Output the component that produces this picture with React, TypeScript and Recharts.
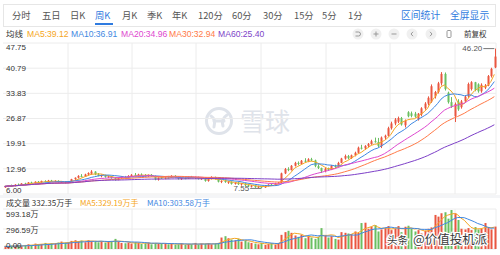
import React from 'react';
import { ComposedChart, Bar, Line, XAxis, YAxis, CartesianGrid, ReferenceDot } from 'recharts';

const RED = '#ea5640';
const GREEN = '#6abf61';
const FONT = '"Liberation Sans", Arial, "Noto Sans CJK SC", sans-serif';
const CJK = '"Noto Sans CJK SC", "Liberation Sans", sans-serif';

const tabs = ['分时', '五日', '日K', '周K', '月K', '季K', '年K', '120分', '60分', '30分', '15分', '5分', '1分'];
const activeTab = '周K';
const toolLinks = ['区间统计', '全屏显示'];

const maNames = ['MA5', 'MA10', 'MA20', 'MA30', 'MA60'];
const maLast = ['39.12', '36.91', '34.96', '32.94', '25.40'];
const maColors = ['#f5a623', '#3f88e2', '#de48cf', '#ff7a48', '#7d3fc8'];
const maWindows = [5, 10, 20, 30, 60];

const priceTicks = [6.0, 12.96, 19.91, 26.87, 33.83, 40.79, 47.75];
const volTicks = [0, 296.59, 593.18];
const volLegend = ['成交量 332.35万手', 'MA5:329.19万手', 'MA10:303.58万手'];
const maxLabel = { index: 147, value: 46.2 };
const minLabel = { index: 77, value: 7.55 };

// weekly candles: [open, high, low, close]
const candles: [number, number, number, number][] = [
  [7.9, 8.2, 7.7, 8.1], [8.1, 8.4, 7.9, 8.3], [8.3, 8.6, 8.0, 8.2], [8.2, 8.7, 8.1, 8.6],
  [8.6, 8.9, 8.3, 8.5], [8.5, 9.0, 8.4, 8.9], [8.9, 9.1, 8.6, 8.8], [8.8, 9.3, 8.7, 9.2],
  [9.2, 9.4, 8.9, 9.0], [9.0, 9.5, 8.9, 9.4], [9.4, 9.6, 9.1, 9.2], [9.2, 9.7, 9.1, 9.6],
  [9.6, 9.8, 9.3, 9.4], [9.4, 9.9, 9.3, 9.7], [9.7, 9.9, 9.4, 9.5], [9.5, 9.8, 9.3, 9.6],
  [9.6, 9.8, 9.2, 9.3], [9.3, 9.6, 9.0, 9.4], [9.4, 9.5, 8.9, 9.1], [9.1, 9.6, 9.0, 9.5],
  [9.5, 10.2, 9.4, 10.1], [10.1, 10.6, 9.9, 10.5], [10.5, 11.2, 10.3, 11.0], [11.0, 11.5, 10.6, 10.8],
  [10.8, 11.6, 10.7, 11.4], [11.4, 12.0, 11.1, 11.8], [11.6, 12.6, 11.3, 12.2], [12.2, 12.3, 11.2, 11.4],
  [11.4, 11.8, 10.9, 11.0], [11.0, 11.4, 10.6, 11.2], [11.2, 11.3, 10.5, 10.7], [10.7, 11.1, 10.4, 10.9],
  [10.9, 11.0, 10.2, 10.4], [10.4, 10.7, 9.7, 9.9], [9.9, 10.5, 9.8, 10.4], [10.4, 10.9, 10.2, 10.7],
  [10.7, 11.0, 10.4, 10.6], [10.6, 11.2, 10.5, 11.0], [11.0, 11.5, 10.8, 11.3], [11.3, 11.8, 11.0, 11.1],
  [11.1, 11.6, 10.9, 11.4], [11.4, 11.7, 11.0, 11.2], [11.2, 11.5, 10.8, 11.0], [11.0, 11.4, 10.7, 11.3],
  [11.3, 11.5, 10.8, 10.9], [10.9, 11.1, 9.8, 10.0], [10.0, 10.6, 9.7, 10.5], [10.5, 10.9, 10.2, 10.4],
  [10.4, 10.8, 10.1, 10.6], [10.6, 11.0, 10.3, 10.5], [10.5, 11.2, 10.4, 11.0], [11.0, 11.2, 10.5, 10.6],
  [10.6, 10.9, 10.0, 10.2], [10.2, 10.6, 9.9, 10.4], [10.4, 10.7, 10.1, 10.3], [10.3, 10.9, 10.2, 10.7],
  [10.7, 11.0, 10.4, 10.5], [10.5, 10.8, 10.2, 10.6], [10.6, 10.8, 10.0, 10.2], [10.2, 10.5, 9.9, 10.4],
  [10.4, 10.6, 9.4, 9.6], [9.6, 10.4, 9.4, 10.2], [10.2, 10.9, 10.0, 10.6], [10.6, 10.8, 10.0, 10.1],
  [10.1, 10.3, 9.2, 9.4], [9.4, 9.8, 9.0, 9.6], [9.6, 9.9, 9.1, 9.3], [9.3, 9.6, 8.8, 9.4],
  [9.4, 9.5, 8.6, 8.8], [8.8, 9.3, 8.6, 9.1], [9.1, 9.3, 8.5, 8.7], [8.7, 9.0, 8.3, 8.9],
  [8.9, 9.0, 8.2, 8.4], [8.4, 8.7, 8.0, 8.2], [8.2, 8.5, 7.8, 8.3], [8.3, 8.4, 7.7, 7.9],
  [7.9, 8.3, 7.6, 8.1], [8.1, 8.2, 7.55, 7.8], [7.8, 8.4, 7.7, 8.3], [8.3, 8.7, 8.1, 8.6],
  [8.6, 8.9, 8.3, 8.5], [8.5, 9.1, 8.4, 9.0], [9.0, 9.3, 8.7, 9.1], [9.1, 11.9, 9.0, 11.7],
  [11.7, 13.2, 11.5, 12.9], [12.9, 13.4, 12.3, 12.6], [12.6, 14.0, 12.5, 13.8], [13.8, 14.9, 13.6, 14.6],
  [14.6, 15.0, 14.0, 14.3], [14.3, 15.4, 14.2, 15.2], [15.2, 15.9, 14.8, 15.0], [15.0, 15.9, 14.8, 15.6],
  [15.6, 16.0, 15.1, 15.3], [15.3, 15.5, 13.4, 13.7], [13.7, 14.2, 12.9, 13.2], [13.2, 13.3, 11.8, 12.3],
  [12.3, 13.2, 12.0, 13.0], [13.0, 13.3, 12.4, 12.7], [12.7, 14.0, 12.6, 13.8], [13.8, 14.1, 13.2, 13.5],
  [13.5, 14.9, 13.4, 14.6], [14.6, 16.0, 14.5, 15.8], [15.8, 16.9, 15.5, 16.5], [16.5, 16.8, 15.6, 15.9],
  [15.9, 16.9, 15.7, 16.7], [16.7, 17.7, 16.4, 17.4], [17.4, 19.1, 17.2, 18.8], [18.8, 19.6, 18.3, 18.6],
  [18.6, 19.5, 18.2, 19.3], [19.3, 20.1, 18.9, 19.8], [19.8, 21.0, 19.6, 20.6], [20.6, 21.6, 20.2, 20.4],
  [20.4, 21.5, 19.0, 19.3], [19.2, 21.9, 18.7, 21.6], [21.6, 22.4, 21.0, 22.1], [22.1, 24.6, 21.9, 24.2],
  [24.2, 26.0, 23.8, 25.5], [25.5, 27.0, 25.0, 26.6], [26.0, 27.4, 25.6, 27.0], [27.0, 27.3, 24.9, 25.2],
  [25.0, 26.6, 24.4, 26.3], [28.6, 28.9, 27.2, 27.5], [28.3, 28.8, 27.2, 27.6], [28.2, 28.7, 27.1, 27.4],
  [26.6, 28.4, 26.3, 28.2], [28.0, 30.0, 27.5, 29.7], [29.7, 31.4, 29.3, 31.0], [31.0, 33.0, 30.5, 32.6],
  [31.5, 36.3, 31.2, 35.8], [33.0, 34.5, 32.4, 34.2], [34.2, 37.0, 33.8, 36.6], [36.6, 39.7, 36.0, 39.2],
  [39.2, 39.6, 34.6, 35.0], [34.0, 34.3, 31.0, 31.4], [31.4, 32.8, 29.8, 30.2], [27.5, 31.3, 25.9, 30.9],
  [31.5, 32.2, 29.0, 29.4], [30.0, 32.0, 29.6, 31.6], [31.6, 33.2, 31.2, 32.9], [33.0, 36.8, 32.6, 36.4],
  [35.0, 37.2, 34.6, 36.9], [36.9, 37.0, 34.4, 34.8], [36.3, 36.6, 34.0, 34.4], [34.4, 36.6, 34.0, 36.2],
  [35.4, 36.4, 35.0, 36.0], [36.0, 38.9, 35.8, 38.6], [38.6, 40.9, 38.2, 40.6], [41.0, 46.2, 40.8, 44.0],
];

// weekly volume, 万手
const volumes = [
  40, 35, 50, 45, 55, 40, 60,
  70, 60, 80, 65, 75, 90, 70, 85, 80, 95,
  110, 90, 100, 120, 130, 110, 125, 100,
  130, 120, 110, 100, 115, 95, 105, 120, 150, 110,
  90, 85, 95, 80, 100, 90, 75, 85, 95, 70, 90, 80, 75, 85, 70,
  80, 65, 70, 85, 60, 75, 70, 90, 65, 80, 75, 85, 70, 80, 90,
  170, 190, 160, 140,
  130, 150, 110, 120, 100, 90,
  80, 70, 90, 60, 75, 85, 65, 90,
  210, 250, 270, 240,
  200, 180, 210, 160, 190, 170, 150, 180,
  310,
  200, 170, 190, 150, 140,
  250, 240, 230,
  220, 260, 240,
  385, 390,
  300, 330, 355, 260, 290, 310,
  340, 280, 300, 340, 250,
  330, 345, 300, 260, 280, 230, 270, 300, 320, 505,
  480, 530, 545,
  450, 578,
  530, 430,
  300, 290, 310, 280, 325, 290, 300,
  385,
  310, 290,
  332.35,
];

const movingAvg = (vals: number[], n: number) =>
  vals.map((_, i) => {
    const w = vals.slice(Math.max(0, i - n + 1), i + 1);
    return w.reduce((a, b) => a + b, 0) / w.length;
  });

const closes = candles.map((c) => c[3]);
const maSeries = maWindows.map((n) => movingAvg(closes, n));
const vma5 = movingAvg(volumes, 5);
const vma10 = movingAvg(volumes, 10);

const data = candles.map(([o, h, l, c], i) => ({
  i,
  o,
  h,
  l,
  c,
  up: c >= o,
  range: [l, h],
  vol: volumes[i],
  vma5: vma5[i],
  vma10: vma10[i],
  ma0: maSeries[0][i],
  ma1: maSeries[1][i],
  ma2: maSeries[2][i],
  ma3: maSeries[3][i],
  ma4: maSeries[4][i],
}));

const gridX = [68, 132, 196, 261, 326, 390, 455, 496];

function Candle(props: any) {
  const { x, width, payload } = props;
  let { y, height } = props;
  if (height < 0) {
    y += height;
    height = -height;
  }
  const { o, h, l, c, up } = payload;
  const color = up ? RED : GREEN;
  const k = h === l ? 0 : height / (h - l);
  const yOf = (v: number) => y + (h - v) * k;
  const cx = Math.round(x + width / 2) + 0.5;
  const top = yOf(Math.max(o, c));
  const bot = yOf(Math.min(o, c));
  return (
    <g>
      <line x1={cx} x2={cx} y1={y} y2={y + height} stroke={color} strokeWidth={1} />
      <rect x={cx - 1} y={top} width={2} height={Math.max(bot - top, 1)} fill={color} />
    </g>
  );
}

function VolBar(props: any) {
  const { x, y, width, height, payload } = props;
  const cx = Math.round(x + width / 2) + 0.5;
  return <rect x={cx - 1} y={y} width={2} height={Math.max(height, 0.5)} fill={payload.up ? RED : GREEN} />;
}

function PriceTick(props: any) {
  const { y, payload } = props;
  const v = payload.value;
  const dy = v === priceTicks[priceTicks.length - 1] ? 4 : v === priceTicks[0] ? -4 : 0;
  return (
    <text x={6} y={y + dy} dy="0.35em" fontSize={8} fill="#333" fontFamily={FONT}>
      {v.toFixed(2)}
    </text>
  );
}

function VolTick(props: any) {
  const { y, payload } = props;
  const v = payload.value;
  const dy = v === volTicks[volTicks.length - 1] ? 5 : v === 0 ? -4 : 1;
  return (
    <text x={6} y={y + dy} dy="0.35em" fontSize={8} fill="#333" fontFamily={FONT}>
      {v === 0 ? '0.00' : `${v.toFixed(2)}万`}
    </text>
  );
}

const extremeLabel = (text: string) => (props: any) => {
  const { cx, cy } = props;
  return (
    <g>
      <line x1={cx - 11} x2={cx} y1={cy} y2={cy} stroke="#777" strokeWidth={1} />
      <text x={cx - 12} y={cy} dy="0.35em" textAnchor="end" fontSize={8} fill="#555" fontFamily={FONT}>
        {text}
      </text>
    </g>
  );
};

function Header() {
  const tabX = [12, 42, 70, 95, 122, 147, 172, 198, 232, 263, 294, 322, 348];
  const maX = [27, 71, 121, 169, 218];
  const iconX = [358, 376, 394, 412, 431];
  return (
    <svg width={500} height={255} style={{ position: 'absolute', left: 0, top: 0, pointerEvents: 'none' }}>
      <rect x={3.5} y={4.5} width={492} height={22} fill="none" stroke="#e6e6e6" />
      {tabs.map((t, i) => (
        <text
          key={t}
          x={tabX[i]}
          y={15.5}
          dy="0.35em"
          fontSize={9.3}
          fontFamily={CJK}
          fill={t === activeTab ? '#2f7be0' : '#555'}
        >
          {t}
        </text>
      ))}
      <rect x={95} y={23} width={18} height={2} fill="#2f7be0" />
      {toolLinks.map((t, i) => (
        <text key={t} x={401 + i * 49} y={15.5} dy="0.35em" fontSize={9.8} fontFamily={CJK} fill="#2f7be0">
          {t}
        </text>
      ))}

      <text x={6} y={34} dy="0.35em" fontSize={8.5} fontFamily={CJK} fill="#333">
        均线
      </text>
      {maNames.map((n, i) => (
        <text key={n} x={maX[i]} y={34} dy="0.35em" fontSize={8.6} fontFamily={FONT} fill={maColors[i]}>
          {`${n}:${maLast[i]}`}
        </text>
      ))}
      {iconX.map((x) => (
        <circle key={x} cx={x} cy={34} r={5.5} fill="#f0f0f0" />
      ))}
      <g stroke="#999" strokeWidth={1} fill="none">
        <path d={`M ${iconX[0] - 2.5} 32 h 3 a 2 2 0 0 1 0 4 h -3`} />
        <path d={`M ${iconX[1] - 2.5} 34 h 5 M ${iconX[1]} 31.5 v 5`} />
        <path d={`M ${iconX[2] - 2.5} 34 h 5`} />
        <path d={`M ${iconX[3] + 1} 31.8 l -2 2.2 l 2 2.2`} />
        <path d={`M ${iconX[4] - 1} 31.8 l 2 2.2 l -2 2.2`} />
        <rect x={447} y={30.5} width={4} height={7} rx={1} />
      </g>
      <text x={464} y={34} dy="0.35em" fontSize={7.5} fontFamily={CJK} fill="#333">
        前复权
      </text>

      <rect x={0} y={195} width={500} height={3} fill="#f4f5f7" />
      {volLegend.map((t, i) => (
        <text
          key={t}
          x={[6, 80, 147][i]}
          y={203.5}
          dy="0.35em"
          fontSize={8}
          fontFamily={CJK}
          fill={['#333', '#f5a623', '#3f88e2'][i]}
        >
          {t}
        </text>
      ))}

      <g fontFamily={CJK} fill="#3a3a3a" stroke="#fff" strokeWidth={2.4} paintOrder="stroke">
        <text x={387} y={244} fontSize={10.5}>头条</text>
        <text x={413} y={244} fontSize={12.5}>@价值投机派</text>
      </g>
    </svg>
  );
}

function Watermark() {
  return (
    <svg width={500} height={255} style={{ position: 'absolute', left: 0, top: 0 }}>
      <g stroke="#dfe3ea" strokeWidth={3} fill="none" strokeLinecap="round">
        <circle cx={219} cy={121} r={12.5} />
        <path d="M 211 116 Q 216 119 214 127" />
        <path d="M 227 115 Q 221 119 223 126" />
        <path d="M 214 121 L 224 121" />
      </g>
      <text x={240} y={131} fontSize={25} fontFamily={CJK} fill="#dfe3ea">
        雪球
      </text>
    </svg>
  );
}

export default function App() {
  return (
    <div
      style={{
        position: 'absolute',
        left: 0,
        top: 0,
        width: 500,
        height: 255,
        background: '#fff',
        overflow: 'hidden',
        fontFamily: FONT,
      }}
    >
      <Watermark />
      <div style={{ position: 'absolute', left: 0, top: 0 }}>
        <ComposedChart width={500} height={200} data={data} margin={{ top: 43, right: 4, bottom: 6, left: 3 }}>
          <CartesianGrid stroke="#ececec" verticalPoints={gridX} />
          <XAxis dataKey="i" type="category" hide />
          <YAxis
            domain={[6, 47.75]}
            ticks={priceTicks}
            interval={0}
            mirror
            axisLine={false}
            tickLine={false}
            tick={<PriceTick />}
            allowDataOverflow
          />
          <Bar dataKey="range" shape={<Candle />} isAnimationActive={false} />
          {maNames.map((n, k) => (
            <Line
              key={n}
              type="linear"
              dataKey={`ma${k}`}
              stroke={maColors[k]}
              strokeWidth={1}
              dot={false}
              activeDot={false}
              isAnimationActive={false}
            />
          ))}
          <ReferenceDot x={maxLabel.index} y={maxLabel.value} r={0} shape={extremeLabel(maxLabel.value.toFixed(2))} />
          <ReferenceDot x={minLabel.index} y={minLabel.value} r={0} shape={extremeLabel(minLabel.value.toFixed(2))} />
        </ComposedChart>
      </div>
      <div style={{ position: 'absolute', left: 0, top: 0 }}>
        <ComposedChart width={500} height={255} data={data} margin={{ top: 209, right: 4, bottom: 6, left: 3 }}>
          <CartesianGrid stroke="#ececec" verticalPoints={gridX} />
          <XAxis dataKey="i" type="category" hide />
          <YAxis
            domain={[0, 593.18]}
            ticks={volTicks}
            interval={0}
            mirror
            axisLine={false}
            tickLine={false}
            tick={<VolTick />}
            allowDataOverflow
          />
          <Bar dataKey="vol" shape={<VolBar />} isAnimationActive={false} />
          <Line type="linear" dataKey="vma5" stroke="#f5a623" strokeWidth={1} dot={false} isAnimationActive={false} />
          <Line type="linear" dataKey="vma10" stroke="#3f88e2" strokeWidth={1} dot={false} isAnimationActive={false} />
        </ComposedChart>
      </div>
      <Header />
    </div>
  );
}
